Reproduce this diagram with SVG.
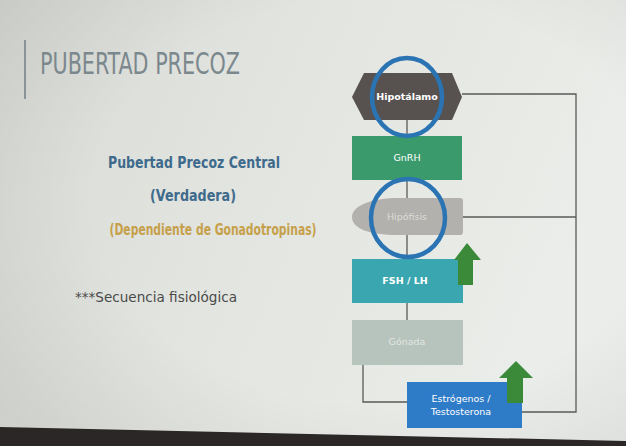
<svg xmlns="http://www.w3.org/2000/svg" width="626" height="446" viewBox="0 0 626 446">
<defs>
<linearGradient id="bg" x1="0" y1="0" x2="1" y2="0.3">
<stop offset="0" stop-color="#d8dad5"/>
<stop offset="0.45" stop-color="#e2e4df"/>
<stop offset="1" stop-color="#ebedea"/>
</linearGradient>
<radialGradient id="vig" cx="0.6" cy="0.45" r="0.75">
<stop offset="0.6" stop-color="#000" stop-opacity="0"/>
<stop offset="1" stop-color="#000" stop-opacity="0.07"/>
</radialGradient>
<style>
.lbl{font-family:"DejaVu Sans","Liberation Sans",sans-serif;font-size:9.5px;text-anchor:middle;fill:#ffffff}
.b{font-weight:bold}
.con{fill:none;stroke:#5a5a58;stroke-width:1.3}
.ring{fill:none;stroke:#2a74b4;stroke-width:4.5}
.up{fill:#3b8a3a}
.txt{font-family:"DejaVu Sans","Liberation Sans",sans-serif;font-weight:bold;text-anchor:middle}
</style>
</defs>
<rect width="626" height="446" fill="url(#bg)"/>
<rect width="626" height="446" fill="url(#vig)"/>
<polygon points="0,427 626,441 626,446 0,446" fill="#2b2727"/>

<rect x="24" y="40" width="2" height="59" fill="#8a9496"/>
<text x="40" y="74" font-family="'DejaVu Sans Condensed','Liberation Sans Narrow','DejaVu Sans',sans-serif" font-size="30" fill="#7b888e" textLength="200" lengthAdjust="spacingAndGlyphs">PUBERTAD PRECOZ</text>

<text class="txt" x="194" y="168" font-size="15.5" fill="#3e6a8c" textLength="172" lengthAdjust="spacingAndGlyphs">Pubertad Precoz Central</text>
<text class="txt" x="193" y="201" font-size="15.5" fill="#3e6a8c" textLength="86" lengthAdjust="spacingAndGlyphs">(Verdadera)</text>
<text class="txt" x="213" y="235" font-size="15.5" fill="#c6a04a" textLength="207" lengthAdjust="spacingAndGlyphs">(Dependiente de Gonadotropinas)</text>
<text x="75" y="302" font-family="'DejaVu Sans','Liberation Sans',sans-serif" font-size="14" fill="#4a4a4a" textLength="162" lengthAdjust="spacingAndGlyphs">***Secuencia fisiológica</text>

<g id="connectors">
<line class="con" x1="407" y1="119" x2="407" y2="320"/>
<polyline class="con" points="462,94 576,94 576,412 522,412"/>
<line class="con" x1="462" y1="217" x2="576" y2="217"/>
<polyline class="con" points="363,365 363,402 407,402"/>
</g>

<g id="hipotalamo">
<polygon points="352,97 364,73 452,73 462,97 452,120 364,120" fill="#57524f"/>
<text class="lbl b" x="407" y="100">Hipotálamo</text>
</g>
<g id="gnrh">
<rect x="352" y="136" width="110" height="44" fill="#3a9a6c"/>
<text class="lbl" x="407" y="161">GnRH</text>
</g>
<g id="hipofisis">
<path d="M400,198 L460,198 Q463,198 463,201 L463,232 Q463,235 460,235 L398,235 C368,235 352,228 352,217 C352,206 370,198 400,198 Z" fill="#b3b1ad"/>
<text class="lbl" x="407" y="220" style="fill:#dcdcd8">Hipófisis</text>
</g>
<g id="fshlh">
<rect x="352" y="259" width="111" height="44" fill="#3aa7b0"/>
<text class="lbl b" x="405" y="284">FSH / LH</text>
</g>
<g id="arrow1">
<polygon class="up" points="467,243 481,260 473,260 473,285 458,285 458,260 454,260"/>
</g>
<g id="gonada">
<rect x="352" y="320" width="111" height="45" fill="#b7c3bd"/>
<text class="lbl" x="407" y="345" style="fill:#e2e7e3">Gónada</text>
</g>
<g id="estrogenos">
<rect x="407" y="382" width="115" height="46" fill="#2e7bc8"/>
<text class="lbl" x="461" y="402">Estrógenos /</text>
<text class="lbl" x="461" y="415">Testosterona</text>
</g>
<g id="arrow2">
<polygon class="up" points="516,361 533,378 523,378 523,403 507,403 507,378 499,378"/>
</g>

<ellipse class="ring" cx="407" cy="97" rx="35" ry="39"/>
<ellipse class="ring" cx="408" cy="218" rx="37" ry="39"/>
</svg>
